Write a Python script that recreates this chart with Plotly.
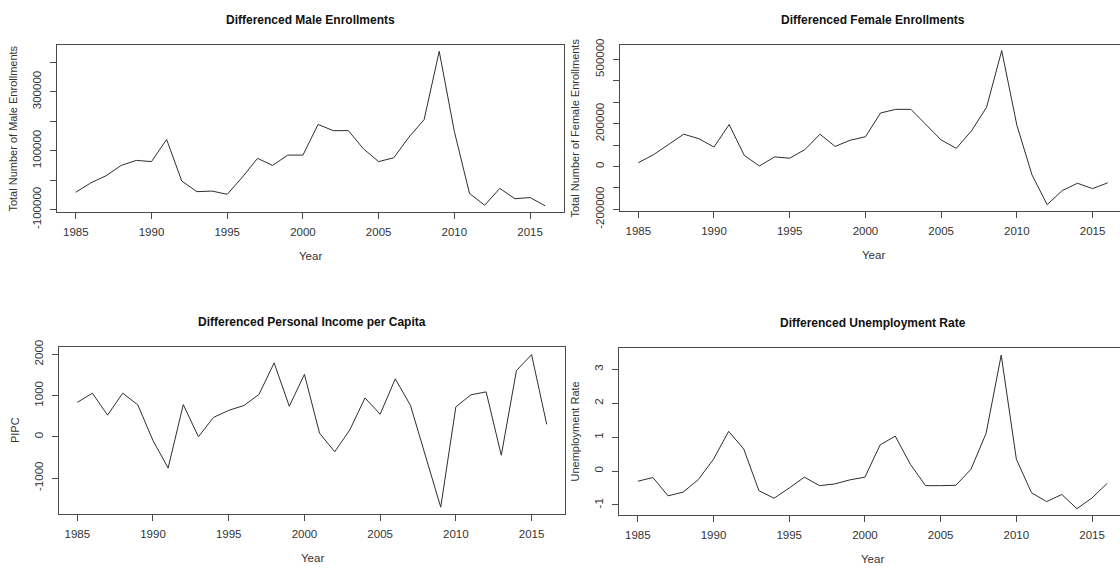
import plotly.graph_objects as go

years = list(range(1985, 2017))

male = [-41000, -9000, 15000, 50000, 67000, 63000, 138000, -3000, -39000, -37000,
        -48000, 10000, 74000, 50000, 85000, 85000, 189000, 168000, 168000, 106000,
        63000, 76000, 146000, 205000, 437000, 165000, -45000, -85000, -28000, -63000,
        -59000, -87000]

female = [18000, 55000, 103000, 151000, 130000, 91000, 196000, 52000, 3000, 45000,
          39000, 79000, 151000, 94000, 123000, 139000, 250000, 267000, 267000, 195000,
          124000, 85000, 166000, 277000, 541000, 193000, -39000, -178000, -112000, -78000,
          -103000, -76000]

pipc = [834, 1058, 525, 1058, 772, -93, -757, 780, 0, 471,
        641, 757, 1027, 1792, 741, 1514, 85, -363, 170, 942,
        548, 1405, 764, -494, -1707, 726, 1019, 1089, -448, 1606,
        1992, 301]

unemp = [-0.30, -0.19, -0.73, -0.62, -0.25, 0.35, 1.17, 0.65, -0.58, -0.80,
         -0.50, -0.18, -0.43, -0.38, -0.26, -0.18, 0.77, 1.03, 0.20, -0.43,
         -0.43, -0.42, 0.05, 1.11, 3.42, 0.35, -0.64, -0.90, -0.69, -1.11,
         -0.79, -0.36]

x_ticks = [1985, 1990, 1995, 2000, 2005, 2010, 2015]

male_ticks = [-100000, 0, 100000, 200000, 300000, 400000]
male_labels = ["-100000", "", "100000", "", "300000", ""]
female_ticks = [-200000, -100000, 0, 100000, 200000, 300000, 400000, 500000]
female_labels = ["-200000", "", "0", "", "200000", "", "", "500000"]
pipc_ticks = [-1000, 0, 1000, 2000]
pipc_labels = ["-1000", "0", "1000", "2000"]
unemp_ticks = [-1, 0, 1, 2, 3]
unemp_labels = ["-1", "0", "1", "2", "3"]

titles = ["Differenced Male Enrollments", "Differenced Female Enrollments",
          "Differenced Personal Income per Capita", "Differenced Unemployment Rate"]
ylabels = ["Total Number of Male Enrollments", "Total Number of Female Enrollments",
           "PIPC", "Unemployment Rate"]

W, H = 1120, 585
FONT = "Liberation Sans, Arial, sans-serif"
TXT = "#333333"
FRAME = "#4a4a4a"

# panel boxes in pixels: (left, right, top, bottom)
boxes = [(57, 564, 40, 214), (619.5, 1120, 40, 213), (58.5, 565, 355.5, 529.5), (619, 1120, 356.5, 530.5)]
px_per_year = 507 / 33.48
x_lo = 1983.76
yranges = [[-107500, 457500], [-207000, 566000], [-1870, 2170], [-1.29, 3.62]]
series = [male, female, pipc, unemp]
yt = [(male_ticks, male_labels), (female_ticks, female_labels), (pipc_ticks, pipc_labels), (unemp_ticks, unemp_labels)]

fig = go.Figure()
layout = dict(width=W, height=H, margin=dict(l=0, r=0, t=0, b=0),
              paper_bgcolor="white", plot_bgcolor="white", showlegend=False,
              font=dict(family=FONT, color=TXT, size=11.5))
annotations = []
for i in range(4):
    L, R, T, B = boxes[i]
    xa = "xaxis" if i == 0 else f"xaxis{i+1}"
    ya = "yaxis" if i == 0 else f"yaxis{i+1}"
    xr = "x" if i == 0 else f"x{i+1}"
    yr = "y" if i == 0 else f"y{i+1}"
    fig.add_trace(go.Scatter(x=years, y=series[i], mode="lines", xaxis=xr, yaxis=yr,
                             line=dict(color="#2e2e2e", width=1), hoverinfo="skip"))
    right_open = R >= W
    x_hi = x_lo + (R - L) / px_per_year
    layout[xa] = dict(domain=[L / W, R / W], range=[x_lo, x_hi], anchor=yr,
                      tickvals=x_ticks, ticktext=[str(v) for v in x_ticks],
                      ticks="outside", ticklen=6, tickcolor=FRAME, tickwidth=1,
                      showline=True, linecolor=FRAME, linewidth=1, mirror=True,
                      showgrid=False, zeroline=False, ticklabelstandoff=3,
                      tickfont=dict(size=11.5, color=TXT, family=FONT))
    layout[ya] = dict(domain=[1 - B / H, 1 - T / H], range=yranges[i], anchor=xr,
                      tickvals=yt[i][0], ticktext=yt[i][1], tickangle=-90,
                      ticks="outside", ticklen=6, tickcolor=FRAME, tickwidth=1,
                      showline=True, linecolor=FRAME, linewidth=1,
                      mirror=(not right_open), showgrid=False, zeroline=False,
                      ticklabelstandoff=4,
                      tickfont=dict(size=11.5, color=TXT, family=FONT))
    # title
    cx = (L + (L + 507)) / 2
    annotations.append(dict(text="<b>" + titles[i] + "</b>", xref="paper", yref="paper",
                            x=cx / W, y=1 - ((T - 26) / H), xanchor="center", yanchor="middle",
                            showarrow=False, font=dict(size=12, color="#111111", family=FONT)))
    # x axis title
    annotations.append(dict(text="Year", xref="paper", yref="paper",
                            x=cx / W, y=1 - ((B + 46) / H), xanchor="center", yanchor="middle",
                            showarrow=False, font=dict(size=11.5, color=TXT, family=FONT)))
    # y axis title
    annotations.append(dict(text=ylabels[i], xref="paper", yref="paper",
                            x=(L - 44) / W, y=1 - ((T + B) / 2 / H), xanchor="center", yanchor="middle",
                            textangle=-90, showarrow=False,
                            font=dict(size=11, color=TXT, family=FONT)))
layout["annotations"] = annotations
fig.update_layout(**layout)
fig.write_html("out.html")
